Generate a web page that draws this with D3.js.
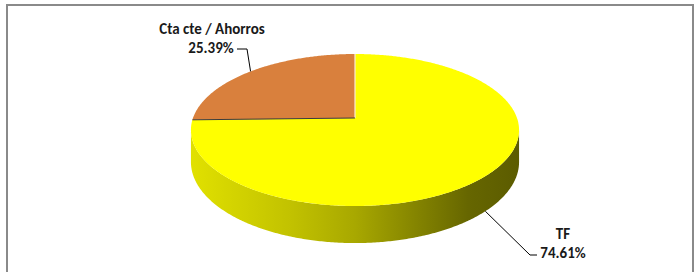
<!DOCTYPE html>
<html>
<head>
<meta charset="utf-8">
<script src="https://cdn.jsdelivr.net/npm/d3@7"></script>
<style>
  body { margin: 0; background: #fff; }
  svg { display: block; }
  .lbl { font-family: Carlito, "Open Sans", sans-serif; font-weight: bold; font-size: 15px; fill: #1a1a1a; }
</style>
</head>
<body>
<svg id="chart"></svg>
<script>
// data
const categories = ["TF", "Cta cte / Ahorros"];
const values = [74.61, 25.39];
const pctLabels = ["74.61%", "25.39%"];

const width = 699, height = 272;
const svg = d3.select("#chart").attr("width", width).attr("height", height);

// frame
svg.append("rect")
  .attr("x", 7).attr("y", 5)
  .attr("width", 686).attr("height", 320)
  .attr("fill", "none")
  .attr("stroke", "#8a8a8a")
  .attr("stroke-width", 2);

// 3D projection settings (perspective pie)
const cx = 355, cy = 118;
const k = 162;      // horizontal radius
const A = 74.1;     // vertical radius factor
const p = 0.158;    // perspective strength
const H = 31.2;     // thickness

// a: angle clockwise from 12 o'clock, h: 0 = top, 1 = bottom
function proj(a, h) {
  const X = Math.sin(a), Z = -Math.cos(a);
  const w = 1 - p * Z;
  return [cx + k * X / w, cy + (A * Z + H * h) / w];
}

function arcPoints(a0, a1, h) {
  const n = Math.max(2, Math.ceil(Math.abs(a1 - a0) / 0.01));
  return d3.range(n + 1).map(i => proj(a0 + (a1 - a0) * i / n, h));
}

const color = d3.scaleOrdinal().domain(categories).range(["#ffff00", "#d9803d"]);

const pie = d3.pie().sort(null).value(d => d.value);
const arcs = pie(categories.map((c, i) => ({ name: c, value: values[i], label: pctLabels[i] })));

const defs = svg.append("defs");
const grad = defs.append("linearGradient")
  .attr("id", "sideTF")
  .attr("gradientUnits", "userSpaceOnUse")
  .attr("x1", cx - k).attr("x2", cx + k).attr("y1", 0).attr("y2", 0);
[[0, "#e0e000"], [0.3, "#c2c200"], [0.5, "#a8a800"], [0.7, "#828200"], [0.85, "#666600"], [1, "#5c5c00"]]
  .forEach(s => grad.append("stop").attr("offset", s[0]).attr("stop-color", s[1]));

const gradO = defs.append("linearGradient")
  .attr("id", "sideCta")
  .attr("gradientUnits", "userSpaceOnUse")
  .attr("x1", cx - k).attr("x2", cx + k).attr("y1", 0).attr("y2", 0);
[[0, "#b5652a"], [1, "#6a3a14"]]
  .forEach(s => gradO.append("stop").attr("offset", s[0]).attr("stop-color", s[1]));

const line = d3.line();

// visible outer side: between silhouette angles
const visA0 = Math.acos(-p) , visA1 = 2 * Math.PI - Math.acos(-p);
const sideG = svg.append("g");
arcs.forEach(d => {
  const a0 = Math.max(d.startAngle, visA0), a1 = Math.min(d.endAngle, visA1);
  if (a1 <= a0) return;
  const pts = arcPoints(a0, a1, 0).concat(arcPoints(a1, a0, 1));
  sideG.append("path")
    .attr("d", line(pts) + "Z")
    .attr("fill", d.data.name === "TF" ? "url(#sideTF)" : "url(#sideCta)");
});

// top faces
const topG = svg.append("g");
arcs.forEach(d => {
  const pts = [[cx, cy]].concat(arcPoints(d.startAngle, d.endAngle, 0));
  topG.append("path")
    .attr("d", line(pts) + "Z")
    .attr("fill", color(d.data.name));
});

// radial edges: light at 12 o'clock, dark at the other cut
topG.append("line")
  .attr("x1", cx).attr("y1", cy)
  .attr("x2", proj(0, 0)[0]).attr("y2", proj(0, 0)[1])
  .attr("stroke", "#fbe8d8").attr("stroke-width", 1.2);
const cut = arcs[1].startAngle;
topG.append("line")
  .attr("x1", cx).attr("y1", cy)
  .attr("x2", proj(cut, 0)[0]).attr("y2", proj(cut, 0)[1])
  .attr("stroke", "#3b3b3b").attr("stroke-width", 1);

// labels with leader lines
const labelPos = {
  "TF": { x: 563, y1: 239, y2: 258, elbow: [530, 255], end: [537, 255], h: 1 },
  "Cta cte / Ahorros": { x: 211, y1: 34, y2: 53, elbow: [247, 49], end: [237, 49], h: 0, xName: 212 }
};

const labG = svg.append("g");
arcs.forEach(d => {
  const lp = labelPos[d.data.name];
  const mid = (d.startAngle + d.endAngle) / 2;
  const anchor = proj(mid, lp.h);
  labG.append("path")
    .attr("d", line([anchor, lp.elbow, lp.end]))
    .attr("fill", "none")
    .attr("stroke", "#000")
    .attr("stroke-width", 1);
  labG.append("text")
    .attr("class", "lbl")
    .attr("x", lp.xName || lp.x).attr("y", lp.y1)
    .attr("text-anchor", "middle")
    .text(d.data.name);
  labG.append("text")
    .attr("class", "lbl")
    .attr("x", lp.x).attr("y", lp.y2)
    .attr("text-anchor", "middle")
    .text(d.data.label);
});
</script>
</body>
</html>
